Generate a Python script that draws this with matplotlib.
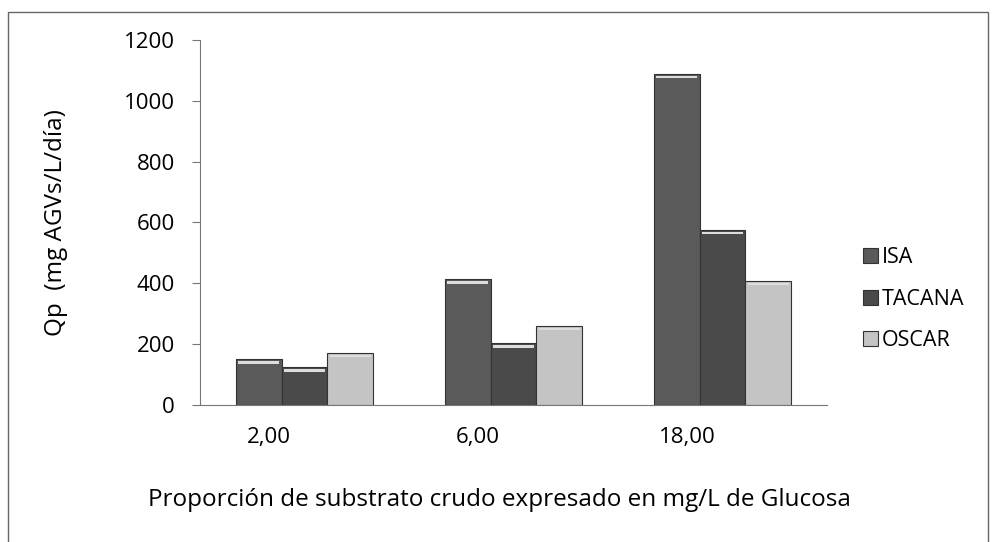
import matplotlib.pyplot as plt
import numpy as np
from matplotlib.patches import Rectangle

plt.rcParams['font.family'] = ['Open Sans', 'DejaVu Sans']

# data
categories = ['2,00', '6,00', '18,00']
series = ['ISA', 'TACANA', 'OSCAR']
isa = [150, 413, 1089]
tacana = [124, 203, 576]
oscar = [172, 260, 408]
values = [isa, tacana, oscar]
colors = ['#5a5a5a', '#4a4a4a', '#c4c4c4']

fig = plt.figure(figsize=(9.94, 5.42), dpi=100)
ax = fig.add_axes([200/994, 1-405/542, 627/994, 365/542])

# chart area frame
fig.patches.append(Rectangle((8/994, 1-545/542), 980/994, 533/542,
                             transform=fig.transFigure, fill=False,
                             edgecolor='#666666', linewidth=1.0))

x = np.arange(len(categories))
w = 0.22
for i, (vals, c) in enumerate(zip(values, colors)):
    pos = x + (i - 1) * w
    ax.bar(pos, vals, width=w, color=c, edgecolor='#333333',
           linewidth=0.8, label=series[i])
    # light strip at the top of each bar
    for p, v in zip(pos, vals):
        ax.add_patch(Rectangle((p - w/2 + 0.01, v - 14), w - 0.02, 8,
                               facecolor='#dddddd', edgecolor='none'))

ax.set_xlim(-0.5, 2.5)
ax.set_ylim(0, 1200)
ax.set_yticks(range(0, 1201, 200))
ax.set_xticks(x - 0.17)
ax.set_xticklabels(categories, fontsize=16)
ax.tick_params(axis='x', length=0, pad=16)
ax.tick_params(axis='y', labelsize=16, length=6, color='#777777', pad=12)
for s in ['top', 'right']:
    ax.spines[s].set_visible(False)
ax.spines['left'].set_color('#777777')
ax.spines['bottom'].set_color('#777777')

ax.set_xlabel('Proporción de substrato crudo expresado en mg/L de Glucosa',
              fontsize=17.5)
ax.xaxis.set_label_coords(0.477, -0.26)
ax.xaxis.label.set_va('center')
ax.set_ylabel('Qp  (mg AGVs/L/día)', fontsize=17.5, labelpad=40)

ax.legend(loc='center left', bbox_to_anchor=(1.026, 0.29), frameon=False,
          fontsize=15.5, handlelength=0.7, handleheight=0.7,
          labelspacing=0.95, handletextpad=0.2)

fig.savefig('out.png', dpi=100)
